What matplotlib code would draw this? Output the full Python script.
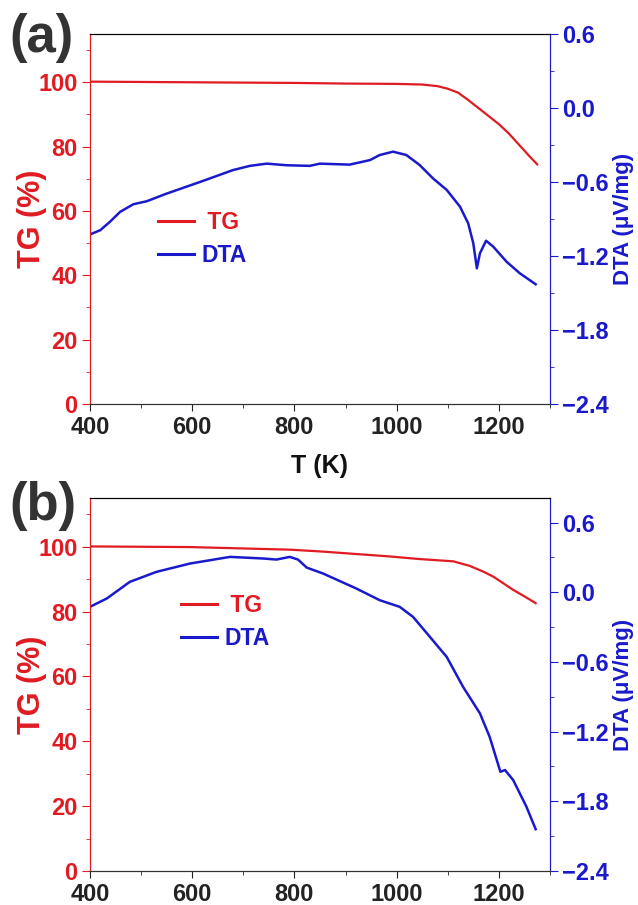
import matplotlib.pyplot as plt
from matplotlib.ticker import MultipleLocator

# TG / DTA データ
# (a)
t_tg_a = [400, 500, 600, 700, 800, 900, 1000, 1050, 1080, 1100, 1120, 1140,
          1160, 1180, 1200, 1220, 1240, 1260, 1275]
tg_a = [100.2, 100.1, 100.0, 99.9, 99.8, 99.6, 99.5, 99.3, 98.8, 98.0, 96.8,
        94.5, 92.0, 89.5, 87.0, 84.0, 80.5, 77.0, 74.5]

t_dta_a = [400, 420, 439, 459, 485, 511, 550, 615, 680, 713, 746, 785, 830,
           850, 908, 948, 967, 993, 1019, 1045, 1071, 1098, 1124, 1140, 1150,
           1157, 1163, 1175, 1189, 1215, 1241, 1272]
dta_a = [-1.025, -0.991, -0.923, -0.842, -0.780, -0.756, -0.694, -0.600,
         -0.503, -0.469, -0.451, -0.464, -0.469, -0.451, -0.459, -0.422,
         -0.381, -0.354, -0.381, -0.462, -0.570, -0.664, -0.800, -0.935,
         -1.097, -1.300, -1.178, -1.076, -1.124, -1.246, -1.340, -1.429]

# (b)
t_tg_b = [400, 596, 791, 856, 987, 1045, 1111, 1143, 1170, 1189, 1210, 1228,
          1250, 1272]
tg_b = [100.1, 99.9, 99.1, 98.5, 97.0, 96.2, 95.5, 94.1, 92.3, 90.8, 88.6,
        86.7, 84.7, 82.6]

t_dta_b = [400, 433, 478, 530, 596, 674, 739, 765, 791, 807, 824, 856, 921,
           967, 1006, 1032, 1065, 1098, 1130, 1163, 1182, 1203, 1212, 1228,
           1254, 1272]
dta_b = [-0.126, -0.054, 0.089, 0.175, 0.247, 0.304, 0.290, 0.281, 0.304,
         0.281, 0.212, 0.161, 0.032, -0.069, -0.126, -0.212, -0.384, -0.557,
         -0.815, -1.043, -1.245, -1.546, -1.531, -1.617, -1.847, -2.040]

RED = '#e01b22'
BLUE = '#1a1acc'
plt.rcParams['font.family'] = ['Liberation Sans', 'DejaVu Sans']
plt.rcParams['font.weight'] = 'bold'
plt.rcParams['axes.labelweight'] = 'bold'

fig = plt.figure(figsize=(6.38, 9.05), dpi=100)


def panel(rect, t_tg, tg, t_dta, dta, dta_top, label, label_y, leg_xy,
          xlabel):
    ax = fig.add_axes(rect)
    ax2 = ax.twinx()
    ax.plot(t_tg, tg, color=RED, lw=1.6, label=' TG')
    ax2.plot(t_dta, dta, color=BLUE, lw=1.8, label='DTA')

    ax.set_xlim(400, 1300)
    ax.set_ylim(0, 115)
    ax2.set_ylim(-2.4, dta_top)
    ax.set_xticks([400, 600, 800, 1000, 1200])
    ax.xaxis.set_minor_locator(MultipleLocator(100))
    ax.set_yticks([0, 20, 40, 60, 80, 100])
    ax.yaxis.set_minor_locator(MultipleLocator(10))
    ax2.set_yticks([-2.4, -1.8, -1.2, -0.6, 0.0, 0.6])
    ax2.yaxis.set_minor_locator(MultipleLocator(0.3))
    ax2.set_yticklabels(['\u22122.4', '\u22121.8', '\u22121.2', '\u22120.6',
                         '0.0', '0.6'])

    ax.tick_params(axis='x', which='both', direction='out', labelsize=17,
                   colors='#222222', pad=4)
    ax.tick_params(axis='x', which='major', length=5)
    ax.tick_params(axis='x', which='minor', length=3)
    ax.tick_params(axis='y', which='both', direction='out', colors=RED,
                   labelsize=17, pad=3)
    ax.tick_params(axis='y', which='major', length=6)
    ax.tick_params(axis='y', which='minor', length=3)
    ax2.tick_params(axis='y', which='both', direction='out', colors=BLUE,
                    labelsize=17, pad=3)
    ax2.tick_params(axis='y', which='major', length=6)
    ax2.tick_params(axis='y', which='minor', length=3)

    for a in (ax, ax2):
        a.spines['left'].set_color(RED)
        a.spines['right'].set_color(BLUE)
        a.spines['top'].set_color('black')
        a.spines['bottom'].set_color('#333333')

    ax.set_ylabel('TG (%)', color=RED, fontsize=22)
    ax.yaxis.set_label_coords(-0.094, 0.5)
    ax2.set_ylabel('DTA (\u03bcV/mg)', color=BLUE, fontsize=16)
    ax2.yaxis.set_label_coords(1.136, 0.5)
    if xlabel:
        ax.set_xlabel('T (K)', fontsize=18, color='#111111')
        ax.xaxis.set_label_coords(0.5, -0.136)

    h1, l1 = ax.get_legend_handles_labels()
    h2, l2 = ax2.get_legend_handles_labels()
    leg = ax.legend(h1 + h2, l1 + l2, loc='center left',
                    bbox_to_anchor=leg_xy, frameon=False, fontsize=16.5,
                    handlelength=1.6, handletextpad=0.3, labelspacing=0.45)
    for txt, c in zip(leg.get_texts(), [RED, BLUE]):
        txt.set_color(c)
    for ln in leg.get_lines():
        ln.set_linewidth(2.2)

    fig.text(0.015, label_y, label, fontsize=38, color='#333333',
             va='top', ha='left')
    return ax


panel([0.141, 0.5536, 0.721, 0.4088], t_tg_a, tg_a, t_dta_a, dta_a, 0.6,
      '(a)', 0.986, (0.102, 0.446), True)
panel([0.141, 0.0376, 0.721, 0.412], t_tg_b, tg_b, t_dta_b, dta_b, 0.81,
      '(b)', 0.469, (0.152, 0.668), False)

fig.savefig('out.png', dpi=100)
plt.close(fig)
